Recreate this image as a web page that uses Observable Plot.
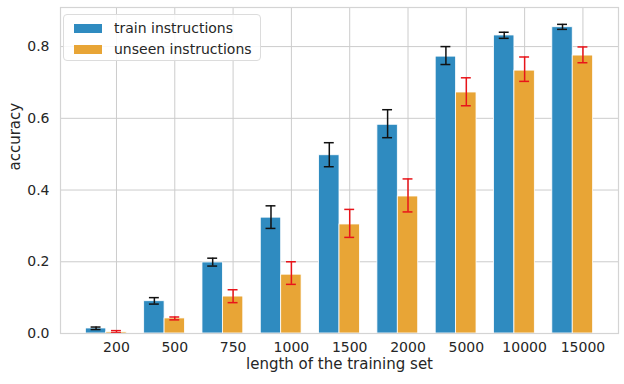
<!DOCTYPE html>
<html>
<head>
<meta charset="utf-8">
<script src="https://cdn.jsdelivr.net/npm/d3@7"></script>
<script src="https://cdn.jsdelivr.net/npm/@observablehq/plot@0.6"></script>
<style>
  html, body { margin: 0; padding: 0; background: #fff; }
  #wrap { position: relative; width: 624px; height: 384px; font-family: "DejaVu Sans", sans-serif; }
  #legend { position: absolute; left: 63px; top: 14px; width: 198px; height: 47px; box-sizing: border-box;
    border: 1px solid #dcdcdc; border-radius: 4px; background: rgba(255,255,255,0.85); font-size: 14px; color: #262626; }
  .row { position: absolute; left: 10px; height: 20px; display: flex; align-items: center; }
  .sw { width: 28px; height: 9px; margin-right: 12px; }
</style>
</head>
<body>
<div id="wrap"></div>
<script>
const sizes = ["200", "500", "750", "1000", "1500", "2000", "5000", "10000", "15000"];
const trainMean = [0.014, 0.090, 0.198, 0.323, 0.497, 0.582, 0.772, 0.831, 0.854];
const trainLo   = [0.011, 0.082, 0.188, 0.293, 0.465, 0.546, 0.750, 0.823, 0.848];
const trainHi   = [0.018, 0.100, 0.210, 0.356, 0.532, 0.624, 0.800, 0.840, 0.862];
const unseenMean = [0.004, 0.042, 0.103, 0.164, 0.304, 0.382, 0.672, 0.733, 0.775];
const unseenLo   = [0.002, 0.038, 0.086, 0.137, 0.268, 0.339, 0.635, 0.703, 0.755];
const unseenHi   = [0.008, 0.046, 0.122, 0.200, 0.346, 0.431, 0.713, 0.771, 0.799];
const seriesNames = ["train instructions", "unseen instructions"];
const yTicks = [0, 0.2, 0.4, 0.6, 0.8];
const xLabel = "length of the training set";
const yLabel = "accuracy";

const blue = "#2f8bc0", orange = "#e8a536";
const W = 0.35, cap = 0.085;

const rows = [];
sizes.forEach((s, i) => {
  rows.push({i, series: seriesNames[0], mean: trainMean[i], lo: trainLo[i], hi: trainHi[i], c: i - W, color: blue, err: "#111111"});
  rows.push({i, series: seriesNames[1], mean: unseenMean[i], lo: unseenLo[i], hi: unseenHi[i], c: i, color: orange, err: "#e8141a"});
});

const chart = Plot.plot({
  width: 624, height: 384,
  marginLeft: 60, marginRight: 6, marginTop: 7, marginBottom: 51,
  style: { fontFamily: "DejaVu Sans, sans-serif", fontSize: "14px", color: "#262626", background: "white" },
  x: { type: "linear", domain: [-0.96, 8.61] },
  y: { domain: [0, 0.909] },
  marks: [
    Plot.gridX(d3.range(sizes.length), { stroke: "#cccccc", strokeOpacity: 1, strokeWidth: 1 }),
    Plot.gridY(yTicks, { stroke: "#cccccc", strokeOpacity: 1, strokeWidth: 1 }),
    Plot.rectY(rows, { x1: d => d.c - W / 2, x2: d => d.c + W / 2, y1: 0, y2: "mean", fill: d => d.color, stroke: "white", strokeWidth: 0.8 }),
    Plot.ruleX(rows, { x: "c", y1: "lo", y2: "hi", stroke: d => d.err, strokeWidth: 1.5 }),
    Plot.ruleY(rows, { y: "lo", x1: d => d.c - cap, x2: d => d.c + cap, stroke: d => d.err, strokeWidth: 1.5 }),
    Plot.ruleY(rows, { y: "hi", x1: d => d.c - cap, x2: d => d.c + cap, stroke: d => d.err, strokeWidth: 1.5 }),
    Plot.frame({ stroke: "#d4d4d4", strokeWidth: 1.2 }),
    Plot.axisX(d3.range(sizes.length), { tickSize: 0, tickPadding: 9, tickFormat: i => sizes[i], label: null, fontSize: 14 }),
    Plot.axisY(yTicks, { tickSize: 0, tickPadding: 11, tickFormat: d3.format(".1f"), label: null, fontSize: 14 }),
    Plot.text([xLabel], { text: d => d, frameAnchor: "bottom", dy: 35, fontSize: 15, fill: "#262626" }),
    Plot.text([yLabel], { text: d => d, frameAnchor: "left", dx: -45, rotate: -90, fontSize: 15, fill: "#262626" })
  ]
});

const wrap = document.getElementById("wrap");
wrap.appendChild(chart);
const legend = document.createElement("div");
legend.id = "legend";
[[seriesNames[0], blue, 3], [seriesNames[1], orange, 24]].forEach(([name, col, top]) => {
  const r = document.createElement("div");
  r.className = "row";
  r.style.top = top + "px";
  const sw = document.createElement("span");
  sw.className = "sw";
  sw.style.background = col;
  const t = document.createElement("span");
  t.textContent = name;
  r.appendChild(sw); r.appendChild(t);
  legend.appendChild(r);
});
wrap.appendChild(legend);
</script>
</body>
</html>
